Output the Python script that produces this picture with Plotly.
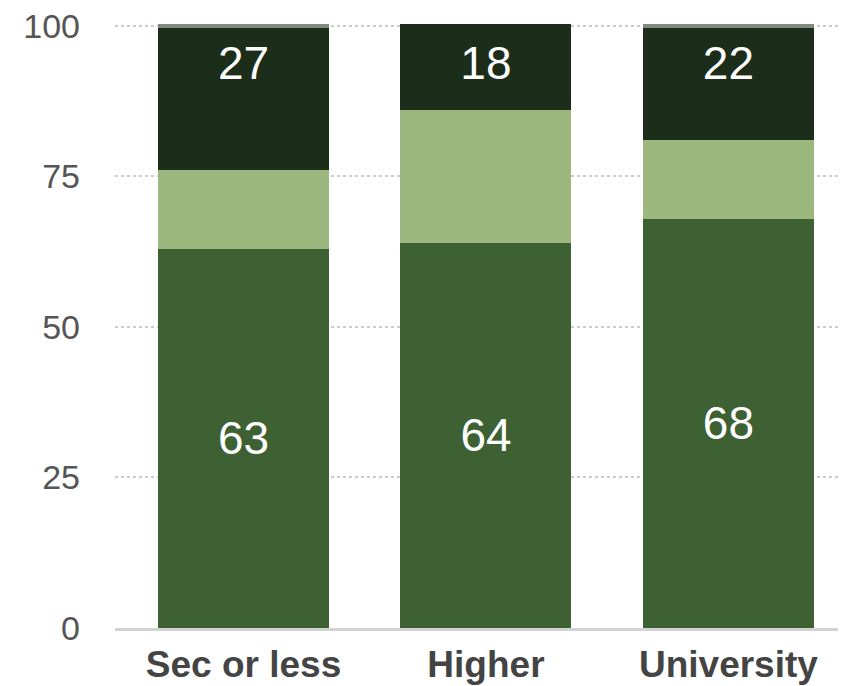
import plotly.graph_objects as go

categories = ["Sec or less", "Higher", "University"]
bottom_vals = [63, 64, 68]
middle_vals = [13, 22, 13]
top_vals = [27, 18, 22]
cap_vals = [0.7, 0, 0.7]
y_ticks = [0, 25, 50, 75, 100]

C_BOTTOM = "#3d6133"
C_MIDDLE = "#9cb87f"
C_TOP = "#1c2d1a"
C_CAP = "#7f8b7e"
BAR_W = 0.705
TOP_LABEL_Y = 93.0
CAP_TOP = 100.35
LABEL_FONT = dict(color="white", size=46, family="Liberation Sans")

fig = go.Figure()
fig.add_trace(go.Bar(x=categories, y=bottom_vals, marker_color=C_BOTTOM, width=BAR_W,
                     marker_line_width=0,
                     text=[str(v) for v in bottom_vals], textposition="inside",
                     insidetextanchor="middle", textfont=LABEL_FONT,
                     hoverinfo="skip"))
fig.add_trace(go.Bar(x=categories, y=middle_vals, marker_color=C_MIDDLE, width=BAR_W,
                     marker_line_width=0, hoverinfo="skip"))
fig.add_trace(go.Bar(x=categories, y=top_vals, marker_color=C_TOP, width=BAR_W,
                     marker_line_width=0, hoverinfo="skip"))
fig.add_trace(go.Bar(x=categories, y=cap_vals, base=[CAP_TOP - v for v in cap_vals],
                     marker_color=C_CAP, width=BAR_W, cliponaxis=False,
                     marker_line_width=0, hoverinfo="skip"))
fig.add_trace(go.Scatter(x=categories, y=[TOP_LABEL_Y] * len(categories), mode="text",
                         text=[str(v) for v in top_vals], textfont=LABEL_FONT,
                         hoverinfo="skip"))

fig.update_layout(
    width=846, height=686,
    margin=dict(l=107, r=8, t=16, b=66, autoexpand=False),
    barmode="stack",
    showlegend=False,
    plot_bgcolor="white", paper_bgcolor="white",
)
fig.update_xaxes(range=[-0.53, 2.485], showline=True, linecolor="#d2d2d2", linewidth=3,
                 ticks="", showgrid=False, automargin=False,
                 tickfont=dict(size=37, color="#444444", family="Liberation Sans", weight="bold"),
                 ticklabelstandoff=2)
fig.update_yaxes(range=[0, 100.3], tickvals=y_ticks, showgrid=True, gridcolor="#cccccc",
                 gridwidth=2, griddash="dot", zeroline=False, ticks="", automargin=False,
                 ticklabeloverflow="allow",
                 tickfont=dict(size=34, color="#555555", family="Liberation Sans"),
                 ticklabelstandoff=34)

fig.write_html("out.html")
